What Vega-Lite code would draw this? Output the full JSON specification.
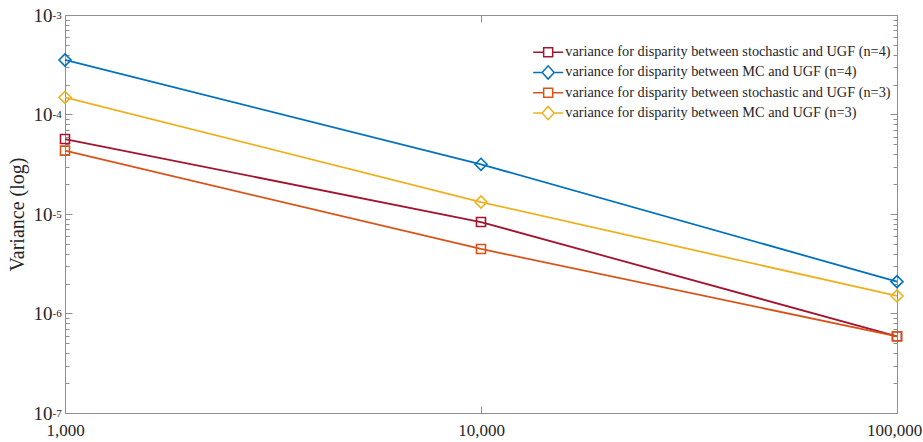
{
  "$schema": "https://vega.github.io/schema/vega-lite/v6.json",
  "width": 832,
  "height": 398,
  "autosize": {"type": "none"},
  "padding": {"left": 65, "top": 15, "right": 26, "bottom": 29},
  "background": "white",
  "config": {
    "view": {"stroke": "#8f8f8f", "strokeWidth": 1},
    "axis": {"grid": false, "domain": false, "labelFont": "Liberation Serif", "titleFont": "Liberation Serif", "labelColor": "#262626", "titleColor": "#262626", "tickColor": "#8f8f8f", "tickWidth": 1}
  },
  "data": {
    "values": [
      {"n": 1000, "v": 5.67e-5, "series": "variance for disparity between stochastic and UGF (n=4)"},
      {"n": 10000, "v": 8.3e-6, "series": "variance for disparity between stochastic and UGF (n=4)"},
      {"n": 100000, "v": 5.9e-7, "series": "variance for disparity between stochastic and UGF (n=4)"},
      {"n": 1000, "v": 3.53e-4, "series": "variance for disparity between MC and UGF (n=4)"},
      {"n": 10000, "v": 3.16e-5, "series": "variance for disparity between MC and UGF (n=4)"},
      {"n": 100000, "v": 2.09e-6, "series": "variance for disparity between MC and UGF (n=4)"},
      {"n": 1000, "v": 4.33e-5, "series": "variance for disparity between stochastic and UGF (n=3)"},
      {"n": 10000, "v": 4.45e-6, "series": "variance for disparity between stochastic and UGF (n=3)"},
      {"n": 100000, "v": 5.9e-7, "series": "variance for disparity between stochastic and UGF (n=3)"},
      {"n": 1000, "v": 1.49e-4, "series": "variance for disparity between MC and UGF (n=3)"},
      {"n": 10000, "v": 1.32e-5, "series": "variance for disparity between MC and UGF (n=3)"},
      {"n": 100000, "v": 1.5e-6, "series": "variance for disparity between MC and UGF (n=3)"}
    ]
  },
  "layer": [
    {
      "mark": {"type": "line", "strokeWidth": 1.8},
      "encoding": {
        "x": {"field": "n", "type": "quantitative", "scale": {"type": "log", "domain": [1000, 100000]},
          "axis": {"orient": "bottom", "values": [1000, 10000, 100000], "format": ",", "ticks": false, "labelPadding": 9, "labelFontSize": 17, "labelFlush": false, "labelOverlap": false, "title": null,
            "labelOffset": {"condition": {"test": "datum.value >= 100000", "value": -3}, "value": 0}}},
        "y": {"field": "v", "type": "quantitative", "scale": {"type": "log", "domain": [1e-7, 1e-3]},
          "axis": {"orient": "left", "values": [1e-7, 1e-6, 1e-5, 1e-4, 1e-3], "labelExpr": "'10'", "ticks": false, "labelPadding": 13, "labelFontSize": 19, "labelBaseline": "middle", "labelDy": 4, "labelOverlap": false,
            "title": "Variance (log)", "titleFontSize": 20, "titleFontWeight": "normal", "titleX": -48, "titleY": 199, "titleBaseline": "middle", "titleAngle": 270}},
        "color": {"field": "series", "type": "nominal",
          "scale": {"domain": ["variance for disparity between stochastic and UGF (n=4)", "variance for disparity between MC and UGF (n=4)", "variance for disparity between stochastic and UGF (n=3)", "variance for disparity between MC and UGF (n=3)"],
            "range": ["#A2142F", "#0072BD", "#D95319", "#EDB120"]},
          "legend": {"orient": "none", "legendX": 476, "legendY": 30, "title": null, "padding": 0,
            "labelFont": "Liberation Serif", "labelFontSize": 14.3, "labelColor": "#262626", "labelLimit": 600, "labelOffset": 10,
            "symbolSize": 144, "symbolStrokeWidth": 1.5, "rowPadding": 2.3,
            "encode": {"symbols": {"update": {
              "shape": {"signal": "indexof(datum.value, 'MC') >= 0 ? 'M-2.5,0H-1M1,0H2.5M-1,0L0,-1.1L1,0L0,1.1Z' : 'M-2.5,0H-0.75M0.75,0H2.5M-0.75,-0.75H0.75V0.75H-0.75Z'"},
              "fill": {"value": "transparent"},
              "stroke": {"signal": "scale('color', datum.value)"},
              "strokeWidth": {"value": 1.5},
              "opacity": {"value": 1}
            }}}}}
      }
    },
    {
      "transform": [{"filter": "indexof(datum.series, 'MC') < 0"}],
      "mark": {"type": "point", "shape": "square", "size": 81, "filled": false, "strokeWidth": 1.6, "opacity": 1},
      "encoding": {
        "x": {"field": "n", "type": "quantitative", "axis": {"orient": "top", "values": [1000, 10000, 100000], "labels": false, "tickSize": -7, "title": null}},
        "y": {"field": "v", "type": "quantitative",
          "axis": {"orient": "left", "values": [1e-7, 1e-6, 1e-5, 1e-4, 1e-3], "labelExpr": "'-' + round(-log(datum.value)/LN10)", "ticks": false, "labelAlign": "left", "labelPadding": 13, "labelFontSize": 11, "labelBaseline": "middle", "labelDy": -3, "labelOverlap": false, "title": null}},
        "color": {"field": "series", "type": "nominal", "legend": null}
      }
    },
    {
      "transform": [{"filter": "indexof(datum.series, 'MC') >= 0"}],
      "mark": {"type": "point", "shape": "diamond", "size": 144, "filled": false, "strokeWidth": 1.6, "opacity": 1},
      "encoding": {
        "x": {"field": "n", "type": "quantitative", "axis": {"orient": "bottom", "values": [1000, 10000, 100000], "labels": false, "tickSize": -7, "title": null}},
        "y": {"field": "v", "type": "quantitative", "axis": {"orient": "left", "values": [1e-7, 1e-6, 1e-5, 1e-4, 1e-3], "labels": false, "tickSize": -7, "title": null}},
        "color": {"field": "series", "type": "nominal", "legend": null}
      }
    },
    {
      "mark": {"type": "point", "opacity": 0},
      "encoding": {
        "x": {"field": "n", "type": "quantitative", "axis": null},
        "y": {"field": "v", "type": "quantitative", "axis": {"orient": "left", "values": [2e-7, 3e-7, 4e-7, 5e-7, 6e-7, 7e-7, 8e-7, 9e-7, 2e-6, 3e-6, 4e-6, 5e-6, 6e-6, 7e-6, 8e-6, 9e-6, 2e-5, 3e-5, 4e-5, 5e-5, 6e-5, 7e-5, 8e-5, 9e-5, 2e-4, 3e-4, 4e-4, 5e-4, 6e-4, 7e-4, 8e-4, 9e-4], "labels": false, "tickSize": -4, "title": null}}
      }
    },
    {
      "mark": {"type": "point", "opacity": 0},
      "encoding": {
        "x": {"field": "n", "type": "quantitative", "axis": null},
        "y": {"field": "v", "type": "quantitative", "axis": {"orient": "right", "values": [1e-7, 1e-6, 1e-5, 1e-4, 1e-3], "labels": false, "tickSize": -7, "title": null}}
      }
    },
    {
      "mark": {"type": "point", "opacity": 0},
      "encoding": {
        "x": {"field": "n", "type": "quantitative", "axis": null},
        "y": {"field": "v", "type": "quantitative", "axis": {"orient": "right", "values": [2e-7, 3e-7, 4e-7, 5e-7, 6e-7, 7e-7, 8e-7, 9e-7, 2e-6, 3e-6, 4e-6, 5e-6, 6e-6, 7e-6, 8e-6, 9e-6, 2e-5, 3e-5, 4e-5, 5e-5, 6e-5, 7e-5, 8e-5, 9e-5, 2e-4, 3e-4, 4e-4, 5e-4, 6e-4, 7e-4, 8e-4, 9e-4], "labels": false, "tickSize": -4, "title": null}}
      }
    }
  ],
  "resolve": {"axis": {"x": "independent", "y": "independent"}}
}
